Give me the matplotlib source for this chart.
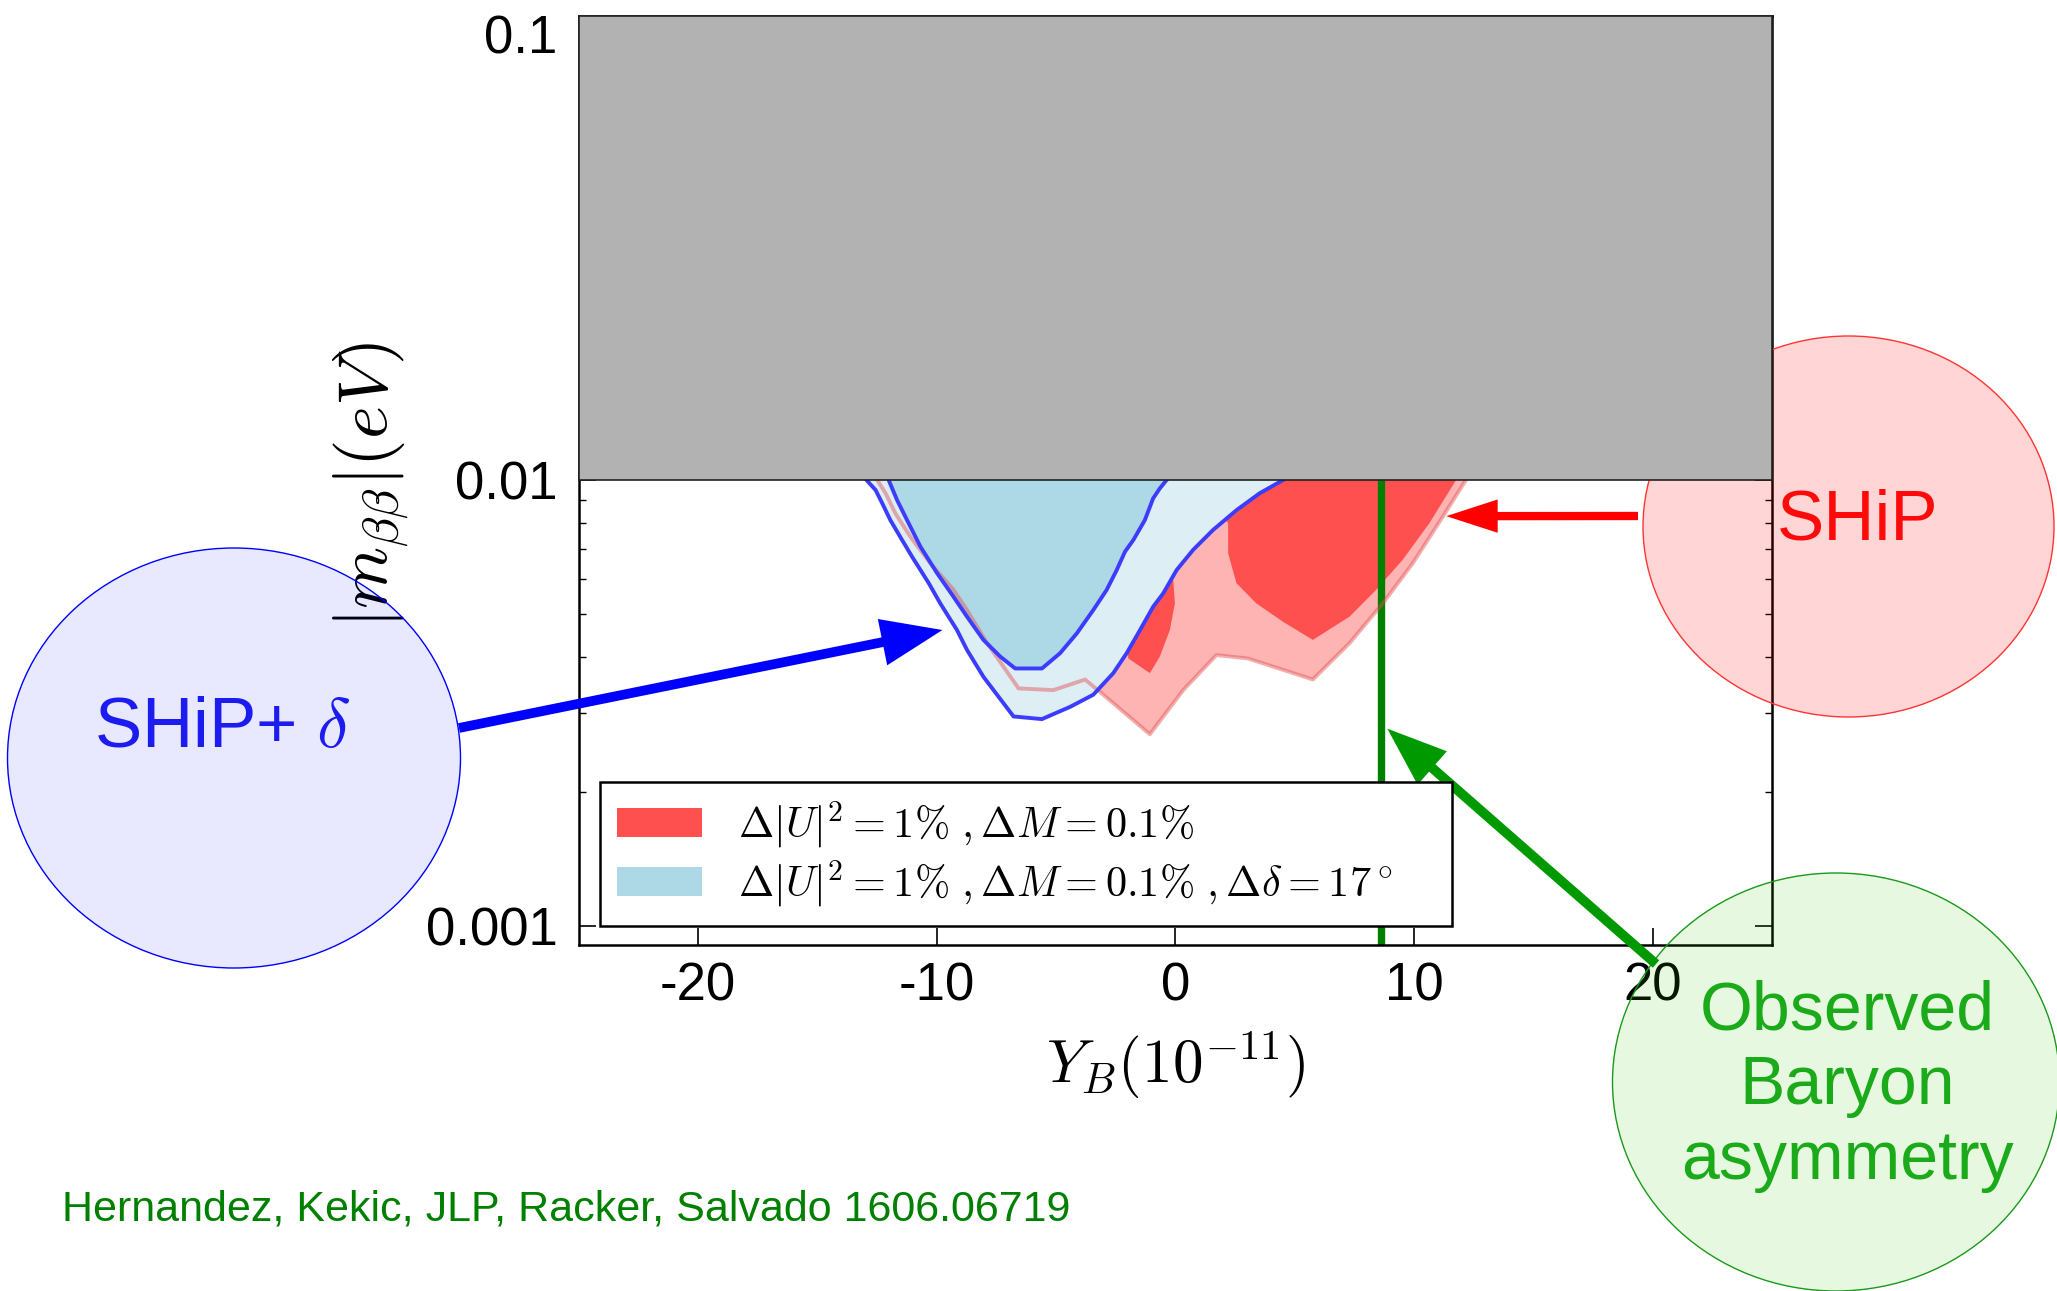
import numpy as np
import matplotlib
matplotlib.use("Agg")
import matplotlib.pyplot as plt
from matplotlib.patches import Ellipse, Rectangle, Patch
from matplotlib.transforms import IdentityTransform
from matplotlib.ticker import LogLocator, NullFormatter

plt.rcParams['mathtext.fontset'] = 'cm'
plt.rcParams['font.family'] = ['Liberation Sans', 'DejaVu Sans']

# contour boundaries (Y_B in 1e-11, |m_bb| in eV)
blue_out_x = [-12.94, -12.56, -12.28, -11.94, -11.45, -11.03, -10.33, -9.85, -9.15, -8.73, -8.04,
              -6.78, -5.59, -4.41, -3.44, -2.60, -2.04, -1.48, -0.93, -0.51, 0.05, 0.74, 1.58,
              2.56, 3.53, 4.51]
blue_out_y = [0.0100, 0.00950, 0.00887, 0.00813, 0.00734, 0.00673, 0.00587, 0.00529, 0.00461,
              0.00416, 0.00362, 0.00295, 0.00291, 0.00310, 0.00330, 0.00369, 0.00409, 0.00461,
              0.00520, 0.00557, 0.00628, 0.00697, 0.00773, 0.00856, 0.00934, 0.0100]

blue_in_x = [-12.01, -11.66, -11.24, -10.68, -9.98, -9.29, -8.73, -8.04, -7.34, -6.71, -5.59,
             -4.83, -4.13, -3.44, -2.88, -2.46, -2.11, -1.76, -1.28, -0.93, -0.65, -0.37]
blue_in_y = [0.0100, 0.00902, 0.00813, 0.00709, 0.00618, 0.00547, 0.00494, 0.00438, 0.00402,
             0.00378, 0.00378, 0.00409, 0.00453, 0.00511, 0.00567, 0.00628, 0.00691, 0.00734,
             0.00813, 0.00910, 0.00958, 0.0100]

pink_x = [-12.49, -12.14, -11.73, -11.10, -10.26, -9.29, -8.73, -7.89, -6.57, -5.11, -3.78,
          -3.02, -1.07, 0.33, 1.72, 3.04, 5.76, 7.30, 8.69, 9.94, 11.20, 12.17]
pink_y = [0.0100, 0.00934, 0.00842, 0.00746, 0.00650, 0.00567, 0.00511, 0.00431, 0.00341,
          0.00338, 0.00357, 0.00330, 0.00269, 0.00338, 0.00405, 0.00398, 0.00357, 0.00431,
          0.00529, 0.00650, 0.00827, 0.0100]

red_x = [-1.97, -1.07, -0.65, -0.23, -0.02, -0.09, -0.44, 1.02, 1.65, 2.21, 2.21, 2.56, 3.39,
         4.51, 5.76, 7.30, 8.41, 9.52, 10.64, 11.76, -1.0, -2.3]
red_y = [0.00398, 0.00369, 0.00402, 0.00461, 0.00529, 0.00597, 0.00645, 0.00835, 0.00879,
         0.00800, 0.00685, 0.00587, 0.00529, 0.00481, 0.00438, 0.00494, 0.00567, 0.00662,
         0.00800, 0.0100, 0.0100, 0.0060]

yb_obs = 8.6          # observed baryon asymmetry
m_bound = 0.01        # excluded above this (grey)

xticks = [-20, -10, 0, 10, 20]
xticklabels = ['-20', '-10', '0', '10', '20']
yticks = [0.001, 0.01, 0.1]
yticklabels = ['0.001', '0.01', '0.1']

label_red = r'$\Delta|U|^2=1\%\ ,\Delta M=0.1\%$'
label_blue = r'$\Delta|U|^2=1\%\ ,\Delta M=0.1\%\ ,\Delta\delta=17^\circ$'

W, H = 2057, 1291
fig = plt.figure(figsize=(W / 100, H / 100), dpi=100)
ax = fig.add_axes([0.2813, 0.2683, 0.5802, 0.7195])
ax.set_yscale('log')
xlim = (-25, 25)
ylim = (0.000908, 0.110)
ax.set_xlim(xlim)
ax.set_ylim(ylim)

ax.fill(pink_x, pink_y, color='#ffb4b4', lw=0, zorder=1)
ax.fill(red_x, red_y, color='#ff5050', lw=0, zorder=1.2)
ax.fill(blue_out_x, blue_out_y, color='#ddeef5', lw=0, zorder=1.4)
ax.fill(blue_in_x, blue_in_y, color='#add8e6', lw=0, zorder=1.5)
ax.plot([yb_obs, yb_obs], [ylim[0], m_bound], color='#008000', lw=5.3, zorder=1.6,
        solid_capstyle='butt')
ax.plot(pink_x, pink_y, color='#e05050', alpha=0.45, lw=2.8, zorder=1.7)
ax.plot(blue_out_x, blue_out_y, color='#3c3cff', lw=2.8, zorder=1.8)
ax.plot(blue_in_x, blue_in_y, color='#3c3cff', lw=2.8, zorder=1.8)

ax.set_xticks(xticks)
ax.set_xticklabels(xticklabels)
ax.set_yticks(yticks)
ax.set_yticklabels(yticklabels)
ax.yaxis.set_minor_locator(LogLocator(base=10, subs=range(2, 10)))
ax.yaxis.set_minor_formatter(NullFormatter())
ax.tick_params(which='both', direction='in', left=True, right=True, top=True, bottom=True)
ax.tick_params(which='major', length=12, width=1.2, labelsize=38)
ax.tick_params(which='minor', length=5, width=1)
ax.tick_params(axis='x', pad=12)
ax.tick_params(axis='y', pad=15)
for s in ax.spines.values():
    s.set_linewidth(1.8)

ax.set_xlabel(r'$Y_B(10^{-11})$', fontsize=44, va='center')
ax.xaxis.set_label_coords(0.5, -0.1296)
ax.set_ylabel(r'$|m_{\beta\beta}|(eV)$', fontsize=51, va='center', ha='center')
ax.yaxis.set_label_coords(-0.174, 0.4948)

handles = [Patch(facecolor='#ff5050', edgecolor='none'), Patch(facecolor='#add8e6', edgecolor='none')]
leg = ax.legend(handles, [label_red, label_blue], loc='lower left',
                bbox_to_anchor=(0.0179, 0.020, 0.714, 0.1), mode='expand',
                borderaxespad=0, fontsize=30.5, fancybox=False, framealpha=1, edgecolor='black',
                handlelength=2.0, handleheight=0.66, handletextpad=0.85, borderpad=0.4,
                labelspacing=0.2)
leg.get_frame().set_linewidth(1.8)

# bubbles, in pixels of the output picture (y measured from the bottom)
ident = IdentityTransform()
bubbles = [((234, H - 758), 453, 420, (0, 0, 1, 0.09), (0, 0, 1, 1)),
           ((1848.5, H - 526.5), 411, 381, (1, 0, 0, 0.165), (1, 0.2, 0.2, 1)),
           ((1836, H - 1082), 447, 418, (0.2, 0.8, 0.0, 0.12), (0.1, 0.6, 0.1, 1))]
for c, w, h, fc, ec in bubbles:
    ax.add_patch(Ellipse(c, w, h, transform=ident, facecolor=fc, edgecolor=ec, lw=1,
                         clip_on=False, zorder=2.6))

# grey excluded band on top of everything in the frame
ax.add_patch(Rectangle((xlim[0], m_bound), xlim[1] - xlim[0], ylim[1] - m_bound,
                       facecolor='#b2b2b2', edgecolor='#222222', lw=1.2, zorder=2.7,
                       clip_on=False))

# arrows
ax.annotate('', xy=(-9.76, 0.00461), xytext=(459, H - 728), textcoords='figure pixels',
            arrowprops=dict(arrowstyle='simple,head_length=44,head_width=34,tail_width=7',
                            mutation_scale=1, color='#0000ff', shrinkA=0, shrinkB=0, lw=0),
            annotation_clip=False, zorder=3)
ax.annotate('', xy=(11.35, 0.00830), xytext=(1638, H - 516), textcoords='figure pixels',
            arrowprops=dict(arrowstyle='simple,head_length=37,head_width=24,tail_width=6',
                            mutation_scale=1, color='#ff0000', shrinkA=0, shrinkB=0, lw=0),
            annotation_clip=False, zorder=3)
ax.annotate('', xy=(8.88, 0.00277), xytext=(1656, H - 964), textcoords='figure pixels',
            arrowprops=dict(arrowstyle='simple,head_length=43,head_width=32,tail_width=7',
                            mutation_scale=1, color='#009900', shrinkA=0, shrinkB=0, lw=0),
            annotation_clip=False, zorder=3)

fig.text(222 / W, 1 - 729 / H, r'SHiP+ $\delta$', color='#1c1cf0', fontsize=51,
         ha='center', va='center')
fig.text(1858 / W, 1 - 521 / H, 'SHiP', color='#ff0a0a', fontsize=51, ha='center', va='center')
fig.text(1847 / W, 1 - 1086 / H, 'Observed\nBaryon\nasymmetry', color='#1aaa1a', fontsize=49,
         ha='center', va='center', linespacing=1.22)
fig.text(62 / W, 1 - 1210 / H, 'Hernandez, Kekic, JLP, Racker, Salvado 1606.06719',
         color='#008000', fontsize=31, ha='left', va='center')

fig.savefig('out.png', dpi=100)
